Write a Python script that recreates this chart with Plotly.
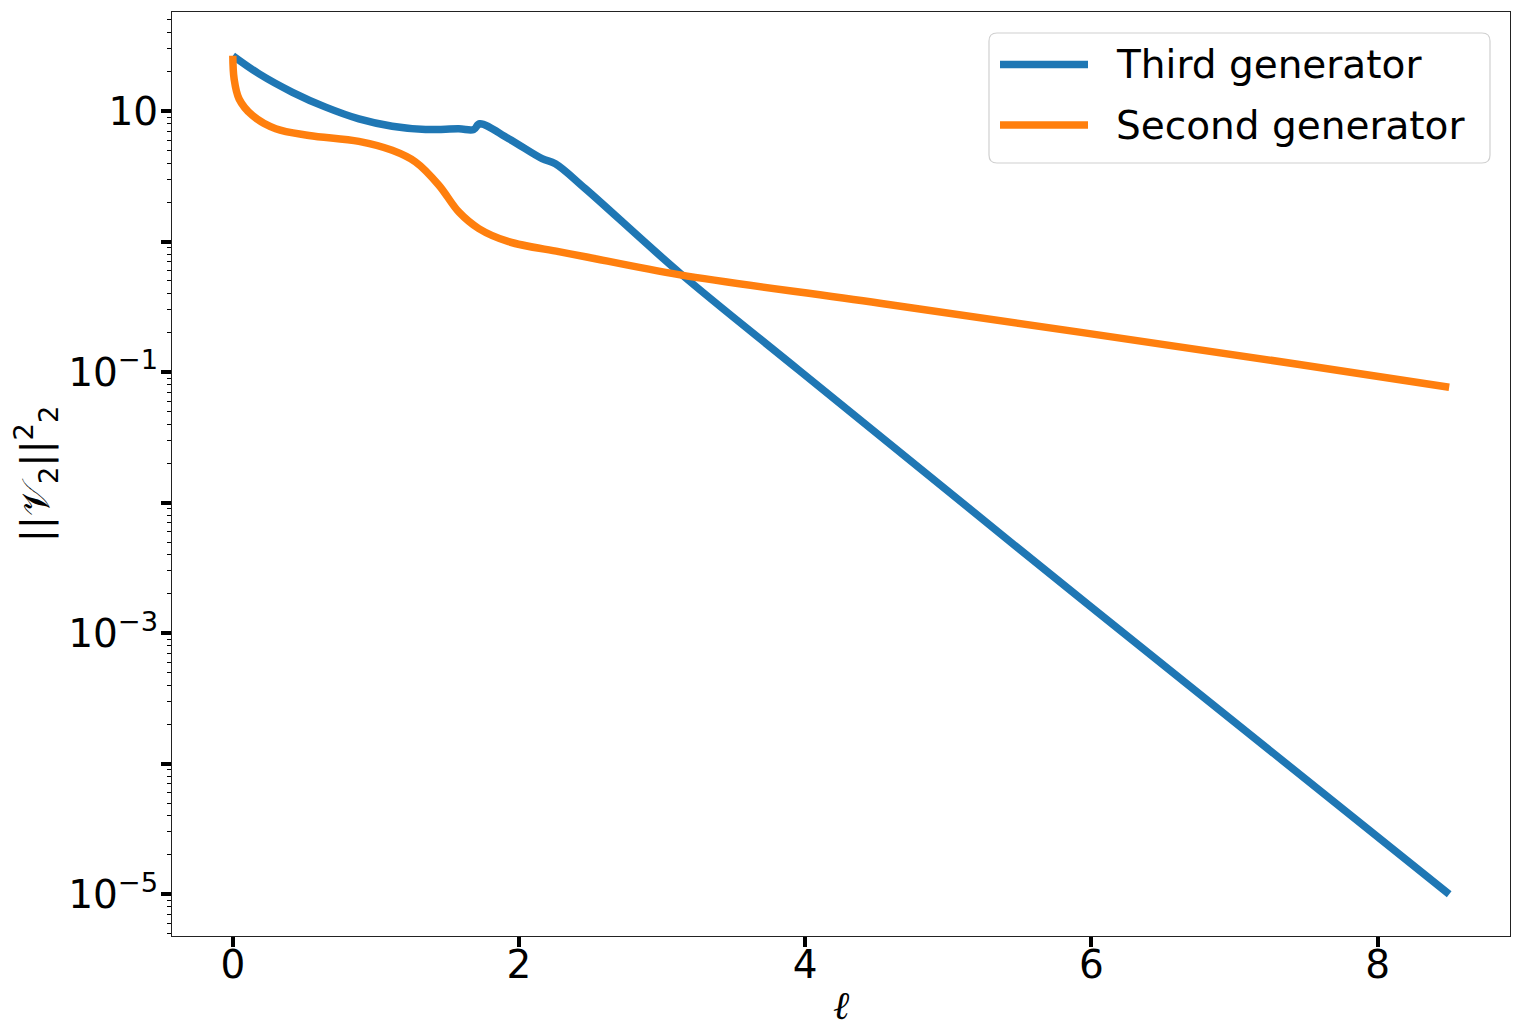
import plotly.graph_objects as go

# ---- data ----
third_x = [0, 0.184, 0.417, 0.649, 0.881, 1.114, 1.347, 1.579, 1.684, 1.724, 1.928, 2.161, 2.254,
           2.463, 3.126, 3.964, 6.0, 8.5]
third_y = [26.6, 19.3, 13.96, 10.74, 8.73, 7.67, 7.24, 7.33, 7.24, 8.0, 6.15, 4.33, 3.96,
           2.55, 0.573, 0.102, 0.00158, 1.0e-5]

second_x = [0, 0.009, 0.044, 0.137, 0.30, 0.532, 0.881, 1.114, 1.277, 1.44, 1.579, 1.719,
            1.928, 2.277, 2.463, 3.126, 4.522, 7.453, 8.5]
second_y = [26.6, 17.7, 12.4, 9.27, 7.33, 6.52, 5.87, 5.01, 4.08, 2.71, 1.69, 1.26,
            1.0, 0.839, 0.767, 0.557, 0.338, 0.1146, 0.0767]

series_names = ["Third generator", "Second generator"]
series_colors = ["#1f77b4", "#ff7f0e"]

x_tick_vals = [0, 2, 4, 6, 8]
y_tick_vals = [10, 1, 0.1, 0.01, 0.001, 1e-4, 1e-5]
y_tick_text = ["10", "", "10<sup>\u22121</sup>", "", "10<sup>\u22123</sup>", "", "10<sup>\u22125</sup>"]

# ---- figure (page body has an 8px margin) ----
OFF = 8
W, H = 1522 - OFF, 1027 - OFF
ML, MR, MT, MB = 172 - OFF, 12, 12 - OFF, 91
PW, PH = W - ML - MR, H - MT - MB
FONT = "DejaVu Sans"
FS = 39
LW = 7.5

fig = go.Figure()
for xs, ys, name, col in [(third_x, third_y, series_names[0], series_colors[0]),
                          (second_x, second_y, series_names[1], series_colors[1])]:
    fig.add_trace(go.Scatter(x=xs, y=ys, mode="lines", name=name,
                             line=dict(color=col, width=LW, shape="spline", smoothing=1.0),
                             showlegend=False))

minor_vals = []
for e in range(-6, 2):
    for k in range(2, 10):
        minor_vals.append(k * 10.0 ** e)

fig.update_layout(
    width=W, height=H, autosize=False,
    margin=dict(l=ML, r=MR, t=MT, b=MB),
    paper_bgcolor="white", plot_bgcolor="white",
    font=dict(family=FONT, size=FS, color="black"),
    xaxis=dict(range=[-0.425, 8.925], tickmode="array", tickvals=x_tick_vals,
               ticks="outside", ticklen=10, tickwidth=3.5, tickcolor="black",
               showline=True, linecolor="#222", linewidth=1.2, mirror=True,
               showgrid=False, zeroline=False, automargin=False, ticklabelstandoff=-16,
               tickfont=dict(family=FONT, size=FS, color="black")),
    yaxis=dict(type="log", range=[-5.32, 1.76], tickmode="array", tickvals=y_tick_vals,
               ticktext=y_tick_text,
               ticks="outside", ticklen=10, tickwidth=3.5, tickcolor="black",
               showline=True, linecolor="#222", linewidth=1.2, mirror=True,
               showgrid=False, zeroline=False, automargin=False, ticklabelstandoff=-5,
               minor=dict(tickmode="array", tickvals=minor_vals, ticks="outside",
                          ticklen=4, tickwidth=1, tickcolor="black", showgrid=False),
               tickfont=dict(family=FONT, size=FS, color="black"),
               title=dict(text="||\U0001D4B1<sub>2</sub>||<sup>2</sup><sub>2</sub>",
                          font=dict(family=FONT, size=FS), standoff=12)),
)

# ---- helpers: reference-page pixels -> paper coords ----
def px2x(px):
    return (px - OFF - ML) / PW

def px2y(py):
    return (H + OFF - MB - py) / PH

# x-axis title
fig.add_annotation(x=px2x(841), y=px2y(1006), xref="paper", yref="paper", text="<i>\u2113</i>",
                   showarrow=False, xanchor="center", yanchor="middle",
                   font=dict(family="DejaVu Serif", size=FS, color="black"))

# ---- manual legend (matplotlib style) ----
bx0, bx1, by0, by1 = px2x(989), px2x(1490), px2y(163), px2y(33)
rx, ry = 8 / PW, 8 / PH
path = (f"M {bx0+rx},{by0} L {bx1-rx},{by0} Q {bx1},{by0} {bx1},{by0+ry} "
        f"L {bx1},{by1-ry} Q {bx1},{by1} {bx1-rx},{by1} L {bx0+rx},{by1} "
        f"Q {bx0},{by1} {bx0},{by1-ry} L {bx0},{by0+ry} Q {bx0},{by0} {bx0+rx},{by0} Z")
fig.add_shape(type="path", path=path, xref="paper", yref="paper",
              line=dict(color="#d0d0d0", width=1.2), fillcolor="rgba(255,255,255,0.8)", layer="above")
for name, col, py in [(series_names[0], series_colors[0], 64.5), (series_names[1], series_colors[1], 125)]:
    fig.add_shape(type="line", xref="paper", yref="paper", x0=px2x(1000), x1=px2x(1088),
                  y0=px2y(py), y1=px2y(py), line=dict(color=col, width=LW), layer="above")
    fig.add_annotation(x=px2x(1114), y=px2y(py), xref="paper", yref="paper", text=name,
                       showarrow=False, xanchor="left", yanchor="middle",
                       font=dict(family=FONT, size=FS, color="black"))

fig.write_html("out.html")
